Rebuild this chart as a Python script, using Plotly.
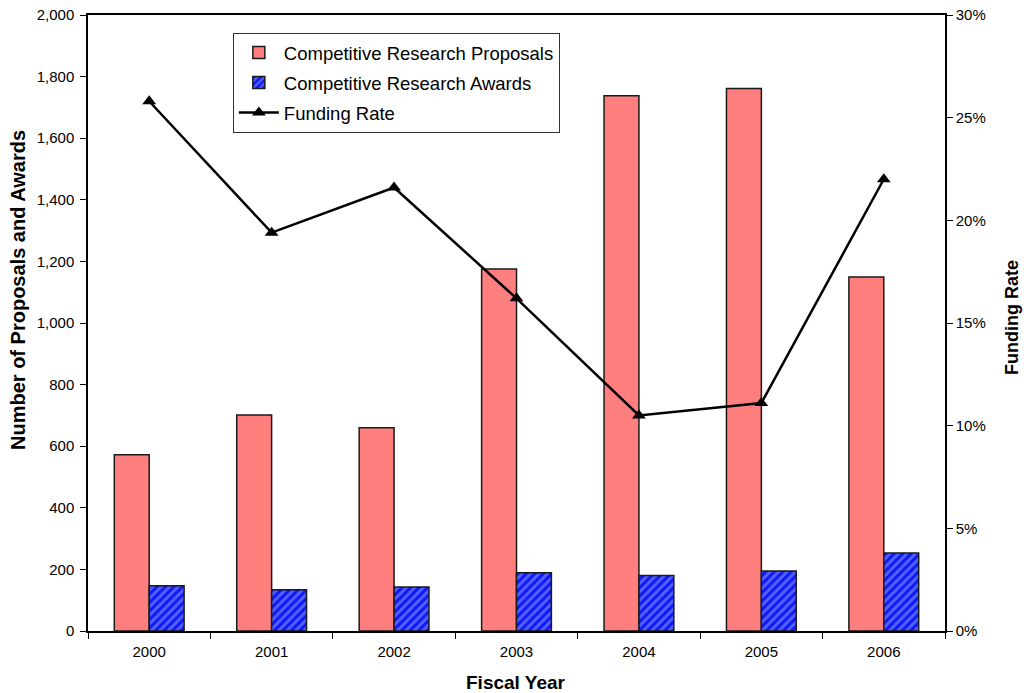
import plotly.graph_objects as go

# Competitive research proposals, awards and funding rate by fiscal year
years = ["2000", "2001", "2002", "2003", "2004", "2005", "2006"]
proposals = [572, 701, 660, 1175, 1738, 1761, 1149]
awards = [147, 134, 143, 189, 180, 195, 253]
funding_rate = [25.8, 19.4, 21.6, 16.2, 10.5, 11.1, 22.0]  # percent

left_ticks = list(range(0, 2001, 200))
left_labels = [f"{v:,}" for v in left_ticks]
right_ticks = [0, 5, 10, 15, 20, 25, 30]
right_labels = [f"{v}%" for v in right_ticks]

FONT = "Liberation Sans, Arial, sans-serif"

fig = go.Figure()

fig.add_trace(go.Bar(
    x=years, y=proposals, name="Competitive Research Proposals",
    marker=dict(color="#FF7F7F", line=dict(color="#1a1a1a", width=1.5)),
    legendgroup="a",
))
fig.add_trace(go.Bar(
    x=years, y=awards, name="Competitive Research Awards",
    marker=dict(
        color="#1414F5",
        line=dict(color="#1a1a1a", width=1.5),
        pattern=dict(shape="/", bgcolor="#1414F5", fgcolor="#86B4FF",
                     size=6, solidity=0.5, fillmode="overlay"),
    ),
    legendgroup="b",
))
fig.add_trace(go.Scatter(
    x=years, y=funding_rate, name="Funding Rate", yaxis="y2",
    mode="lines+markers",
    line=dict(color="black", width=2.5),
    marker=dict(symbol="triangle-up", size=12, color="black"),
    legendgroup="c",
))

# Axis titles placed as annotations so the plot area keeps fixed margins
title_font = dict(family=FONT, size=19, color="black")
annotations = [
    dict(text="<b>Fiscal Year</b>", xref="paper", yref="paper",
         x=0.4994, y=-0.0844, xanchor="center", yanchor="middle",
         showarrow=False, font=title_font),
    dict(text="<b>Number of Proposals and Awards</b>", xref="paper", yref="paper",
         x=-0.0817, y=0.5536, xanchor="center", yanchor="middle",
         textangle=-90, showarrow=False, font=dict(family=FONT, size=20, color="black")),
    dict(text="<b>Funding Rate</b>", xref="paper", yref="paper",
         x=1.0782, y=0.508, xanchor="center", yanchor="middle",
         textangle=-90, showarrow=False, font=dict(family=FONT, size=18, color="black")),
]

fig.update_layout(
    width=1024, height=693,
    margin=dict(l=88, r=79, t=15, b=62),
    paper_bgcolor="white", plot_bgcolor="white",
    font=dict(family=FONT, size=15, color="black"),
    barmode="group", bargap=0.43, bargroupgap=0,
    showlegend=True,
    legend=dict(
        x=0.169, y=0.971, xanchor="left", yanchor="top",
        bordercolor="#333333", borderwidth=1, bgcolor="white",
        font=dict(family=FONT, size=18.5),
        traceorder="grouped", tracegroupgap=3,
        itemwidth=40,
    ),
    annotations=annotations,
    xaxis=dict(
        type="category", tickson="boundaries", automargin=False,
        showline=True, linecolor="black", linewidth=1.5, mirror=True,
        ticks="outside", ticklen=6, tickcolor="black",
        ticklabelstandoff=6,
        showgrid=False, zeroline=False,
    ),
    yaxis=dict(
        range=[0, 2000], tickvals=left_ticks, ticktext=left_labels,
        automargin=False,
        showline=True, linecolor="black", linewidth=1.5,
        ticks="outside", ticklen=6, tickcolor="black",
        ticklabelstandoff=3,
        showgrid=False, zeroline=False,
    ),
    yaxis2=dict(
        range=[0, 30], tickvals=right_ticks, ticktext=right_labels,
        overlaying="y", side="right", automargin=False,
        showline=True, linecolor="black", linewidth=1.5,
        ticks="outside", ticklen=6, tickcolor="black",
        showgrid=False, zeroline=False,
    ),
)

fig.write_html("out.html")
